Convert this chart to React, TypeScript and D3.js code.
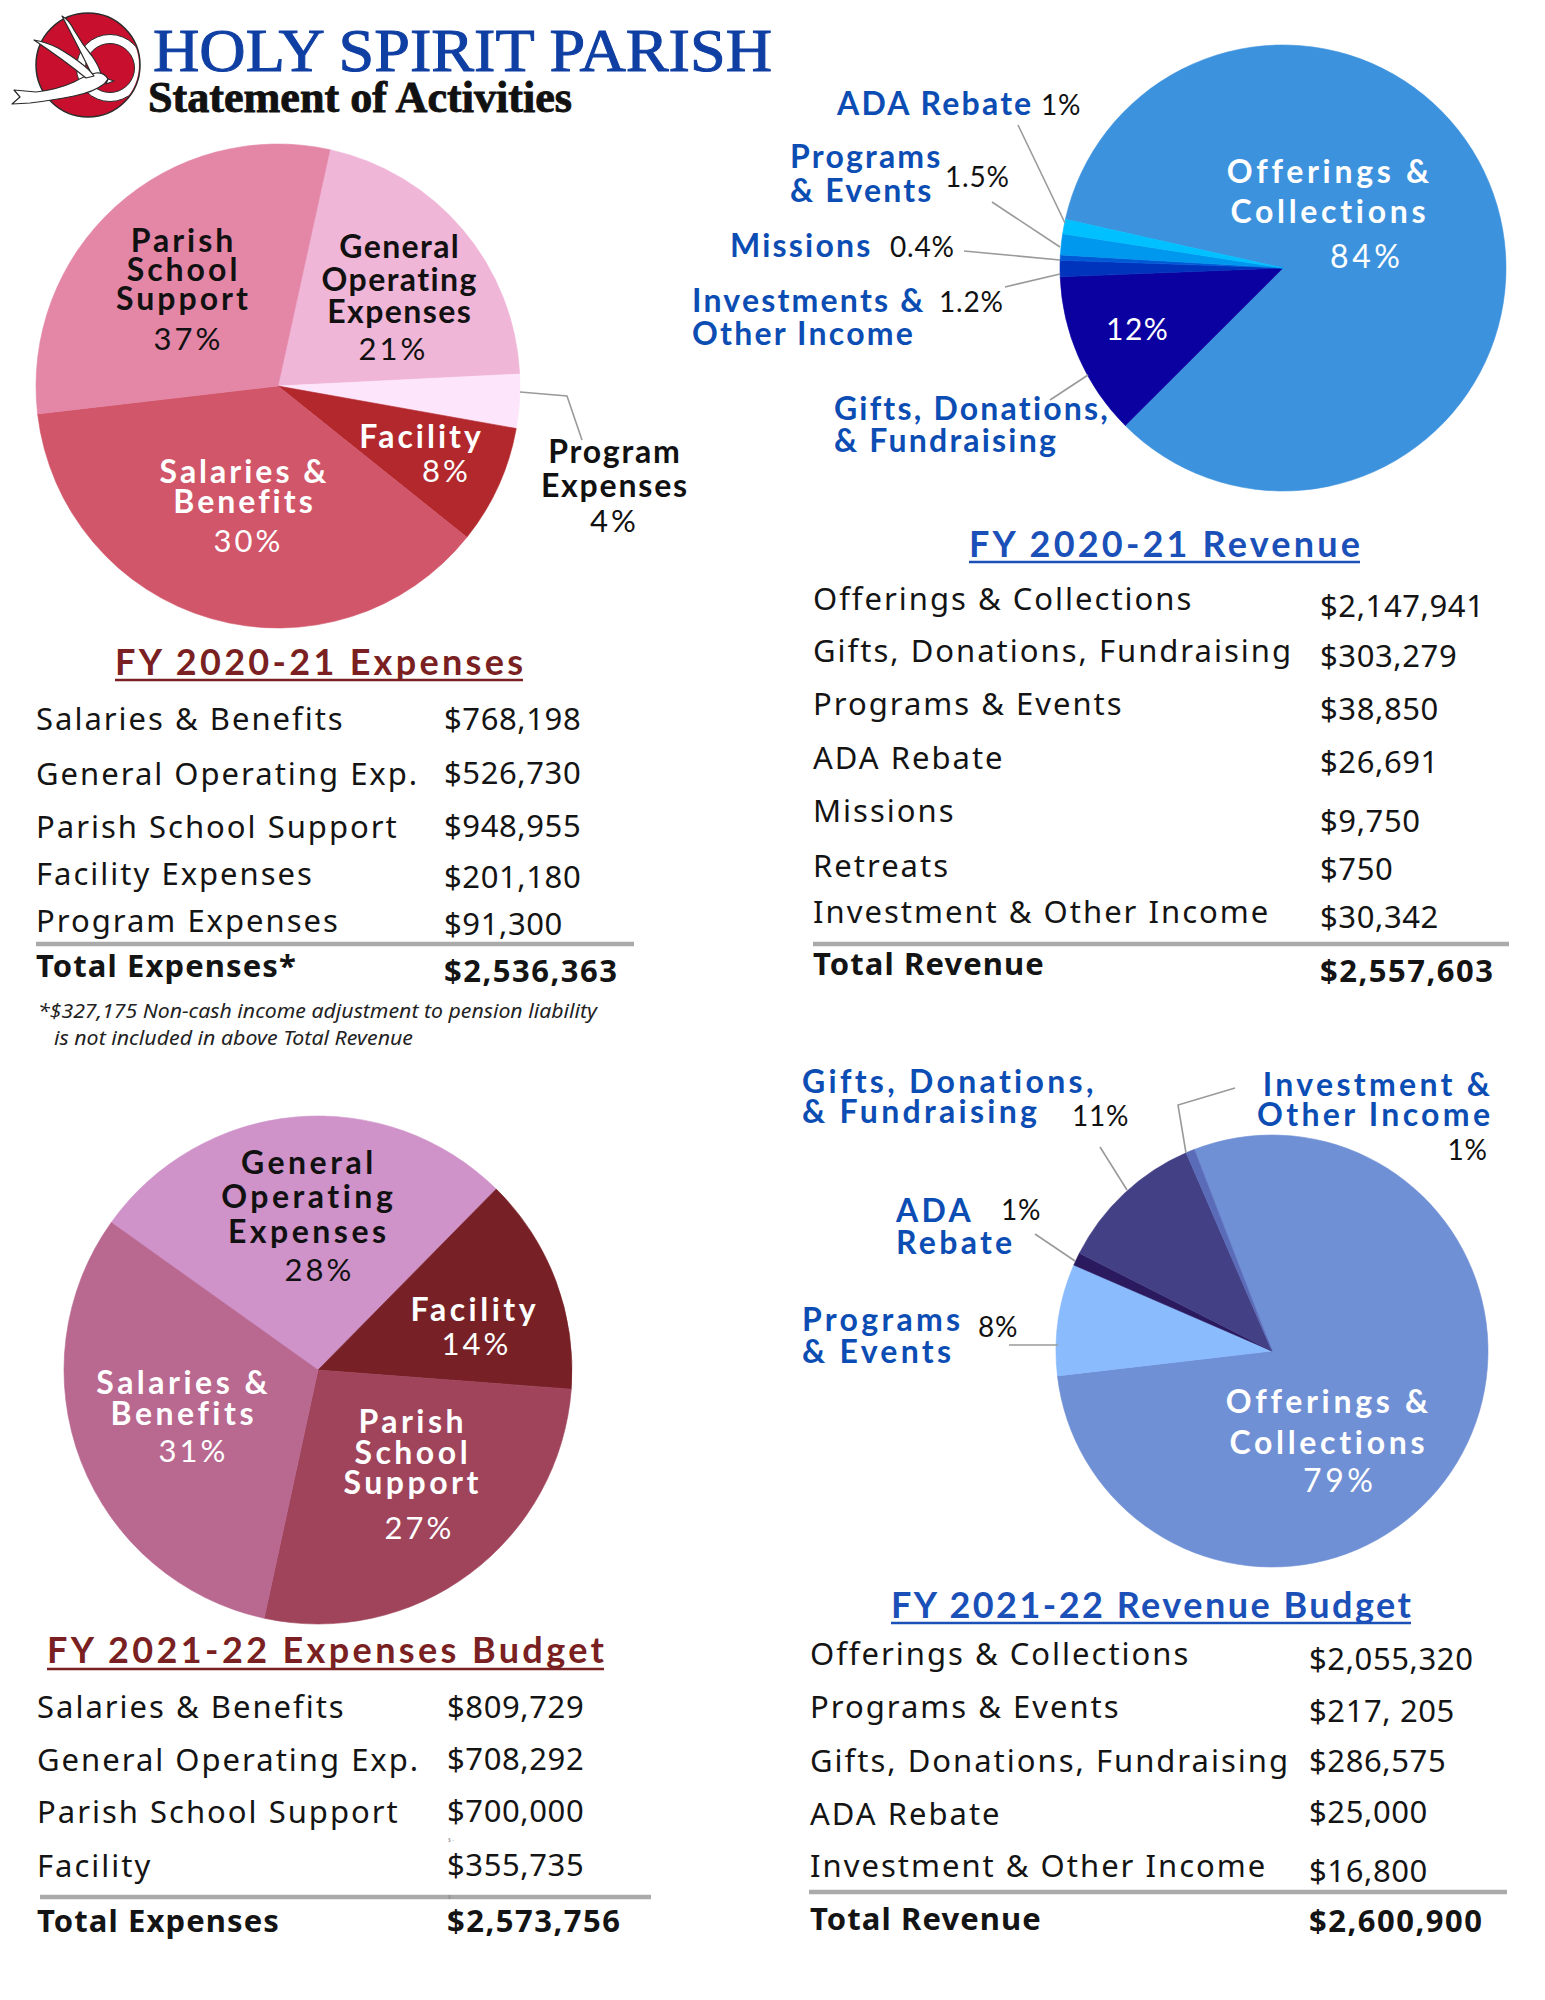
import React from "react";
import * as d3 from "d3";

// ---------------- DATA ----------------
// FY 2020-21 Expenses table
const exp21Categories = ["Salaries & Benefits", "General Operating Exp.", "Parish School Support", "Facility Expenses", "Program Expenses"];
const exp21Amounts = ["$768,198", "$526,730", "$948,955", "$201,180", "$91,300"];
const exp21TotalLabel = "Total Expenses*";
const exp21Total = "$2,536,363";
const exp21Footnote = ["*$327,175 Non-cash income adjustment to pension liability", "is not included in above Total Revenue"];

// FY 2020-21 Expenses pie (slices clockwise, sizes as drawn in the source)
const exp21PieLabels = ["General\nOperating\nExpenses", "Program\nExpenses", "Facility", "Salaries &\nBenefits", "Parish\nSchool\nSupport"];
const exp21PiePct = ["21%", "4%", "8%", "30%", "37%"];
const exp21PieValues = [526730, 91300, 201180, 948955, 768198];

// FY 2020-21 Revenue table
const rev21Categories = ["Offerings & Collections", "Gifts, Donations, Fundraising", "Programs & Events", "ADA Rebate", "Missions", "Retreats", "Investment & Other Income"];
const rev21Amounts = ["$2,147,941", "$303,279", "$38,850", "$26,691", "$9,750", "$750", "$30,342"];
const rev21TotalLabel = "Total Revenue";
const rev21Total = "$2,557,603";

// FY 2020-21 Revenue pie
const rev21PieLabels = ["Offerings &\nCollections", "Gifts, Donations,\n& Fundraising", "Investments &\nOther Income", "Missions", "Programs\n& Events", "ADA Rebate"];
const rev21PiePct = ["84%", "12%", "1.2%", "0.4%", "1.5%", "1%"];
const rev21PieValues = [2147941, 303279, 30342, 9750, 38850, 26691];

// FY 2021-22 Expenses Budget table
const exp22Categories = ["Salaries & Benefits", "General Operating Exp.", "Parish School Support", "Facility"];
const exp22Amounts = ["$809,729", "$708,292", "$700,000", "$355,735"];
const exp22TotalLabel = "Total Expenses";
const exp22Total = "$2,573,756";

// FY 2021-22 Expenses Budget pie
const exp22PieLabels = ["General\nOperating\nExpenses", "Facility", "Parish\nSchool\nSupport", "Salaries &\nBenefits"];
const exp22PiePct = ["28%", "14%", "27%", "31%"];
const exp22PieValues = [708292, 355735, 700000, 809729];

// FY 2021-22 Revenue Budget table
const rev22Categories = ["Offerings & Collections", "Programs & Events", "Gifts, Donations, Fundraising", "ADA Rebate", "Investment & Other Income"];
const rev22Amounts = ["$2,055,320", "$217, 205", "$286,575", "$25,000", "$16,800"];
const rev22TotalLabel = "Total Revenue";
const rev22Total = "$2,600,900";

// FY 2021-22 Revenue Budget pie
const rev22PieLabels = ["Offerings &\nCollections", "Programs\n& Events", "ADA\nRebate", "Gifts, Donations,\n& Fundraising", "Investment &\nOther Income"];
const rev22PiePct = ["79%", "8%", "1%", "11%", "1%"];
const rev22PieValues = [2055320, 217205, 25000, 286575, 16800];

const titleText = "HOLY SPIRIT PARISH";
const subtitleText = "Statement of Activities";
const headings = ["FY 2020-21 Expenses", "FY 2020-21 Revenue", "FY 2021-22 Expenses Budget", "FY 2021-22 Revenue Budget"];

// ---------------- STYLE / LAYOUT ----------------
const PIE_FONT = "Lato, 'Noto Sans', sans-serif";
const TABLE_FONT = "'Noto Sans', 'Open Sans', sans-serif";
const BLUE = "#0c4db4";
const RED_HEAD = "#7a1f22";
const BLUE_HEAD = "#1a50b8";
const LEADER = "#9a9a9a";

type LabelLayout = {
  x: number; y: number; lh?: number; anchor?: string; fill: string; ls?: number;
  px: number; py: number; panchor?: string; pfill: string; psize?: number; pls?: number;
  leader?: [number, number][];
};

const pie1 = {
  cx: 278, cy: 386, r: 242, startDeg: 12.4, ls: 3, psize: 31, pls: 3,
  colors: ["#f0b6d7", "#fde5fb", "#b2282c", "#d15669", "#e486a6"],
  labels: [
    { x: 399, y: 258, lh: 32.5, fill: "#111", ls: 1.4, px: 392, py: 360, pfill: "#111" },
    { x: 614, y: 463, lh: 34, fill: "#111", ls: 1.8, px: 613, py: 532, pfill: "#111", leader: [[520, 392], [567, 396], [582, 440]] },
    { x: 420, y: 448, fill: "#fff", px: 445, py: 482, pfill: "#fff" },
    { x: 243, y: 483, lh: 30, fill: "#fff", px: 247, py: 552, pfill: "#fff" },
    { x: 182, y: 252, lh: 29, fill: "#111", px: 187, py: 350, pfill: "#111" },
  ] as LabelLayout[],
};

const pie2 = {
  cx: 1283, cy: 268, r: 223, startDeg: -77.4, ls: 2.2, psize: 28, pls: 0.8,
  colors: ["#3d92dd", "#0b00a0", "#0034bd", "#005ad6", "#0098ee", "#00c0ff"],
  labels: [
    { x: 1328, y: 183, lh: 40, fill: "#fff", ls: 3.7, px: 1365, py: 268, pfill: "#fff", psize: 32, pls: 3.5 },
    { x: 834, y: 420, lh: 32, anchor: "start", fill: BLUE, px: 1137, py: 340, pfill: "#fff", psize: 30, pls: 1.5, leader: [[1050, 400], [1088, 375]] },
    { x: 692, y: 312, lh: 33, anchor: "start", fill: BLUE, px: 939, py: 312, panchor: "start", pfill: "#111", leader: [[1005, 287], [1060, 274]] },
    { x: 730, y: 257, anchor: "start", fill: BLUE, px: 890, py: 257, panchor: "start", pfill: "#111", leader: [[964, 251], [1060, 260]] },
    { x: 790, y: 168, lh: 34, anchor: "start", fill: BLUE, px: 945, py: 187, panchor: "start", pfill: "#111", leader: [[992, 202], [1060, 247]] },
    { x: 837, y: 115, anchor: "start", fill: BLUE, px: 1041, py: 115, panchor: "start", pfill: "#111", leader: [[1018, 125], [1065, 223]] },
  ] as LabelLayout[],
};

const pie3 = {
  cx: 318, cy: 1370, r: 254, startDeg: -54.5, ls: 3.5, psize: 31, pls: 3,
  colors: ["#cf92c9", "#772126", "#a0445c", "#b96890"],
  labels: [
    { x: 307, y: 1173.5, lh: 34.5, fill: "#111", px: 318, py: 1281, pfill: "#111" },
    { x: 473, y: 1321, fill: "#fff", px: 475, py: 1355, pfill: "#fff" },
    { x: 411, y: 1433, lh: 30.5, fill: "#fff", px: 418, py: 1539, pfill: "#fff" },
    { x: 182, y: 1394, lh: 30.5, fill: "#fff", px: 192, py: 1462, pfill: "#fff" },
  ] as LabelLayout[],
};

const pie4 = {
  cx: 1272, cy: 1351, r: 216, startDeg: -21.1, ls: 3.3, psize: 28, pls: 0.8,
  colors: ["#7090d5", "#8abbfd", "#2b1a5e", "#434086", "#5a6bb8"],
  labels: [
    { x: 1327, y: 1413, lh: 41, fill: "#fff", ls: 3.7, px: 1338, py: 1492, pfill: "#fff", psize: 32, pls: 3.5 },
    { x: 802, y: 1331, lh: 32, anchor: "start", fill: BLUE, px: 978, py: 1337, panchor: "start", pfill: "#111", leader: [[1009, 1345], [1058, 1345]] },
    { x: 896, y: 1222, lh: 32, anchor: "start", fill: BLUE, px: 1001, py: 1220, panchor: "start", pfill: "#111", leader: [[1035, 1234], [1075, 1261]] },
    { x: 802, y: 1093, lh: 30, anchor: "start", fill: BLUE, px: 1072, py: 1126, panchor: "start", pfill: "#111", leader: [[1100, 1147], [1127, 1190]] },
    { x: 1490, y: 1096, lh: 30, anchor: "end", fill: BLUE, px: 1487, py: 1160, panchor: "end", pfill: "#111", leader: [[1235, 1088], [1178, 1105], [1186, 1153]] },
  ] as LabelLayout[],
};

// ---------------- COMPONENTS ----------------
function PieChart({ cfg, values, labels, pcts }: any) {
  const start = (cfg.startDeg * Math.PI) / 180;
  const arcs = d3.pie<number>().sort(null).value((d) => d).startAngle(start).endAngle(start + 2 * Math.PI)(values);
  const arc = d3.arc<d3.PieArcDatum<number>>().innerRadius(0).outerRadius(cfg.r);
  const line = d3.line();
  return (
    <g>
      <g transform={`translate(${cfg.cx},${cfg.cy})`}>
        {arcs.map((a, i) => (
          <path key={i} d={arc(a) || ""} fill={cfg.colors[i]} stroke={cfg.colors[i]} strokeWidth={0.6} />
        ))}
      </g>
      {cfg.labels.map((l: LabelLayout, i: number) => {
        const anchor = l.anchor || "middle";
        const ls = l.ls ?? cfg.ls;
        const pls = l.pls ?? cfg.pls;
        // compensate trailing letter-spacing on centred / end-anchored text
        const dx = anchor === "middle" ? ls / 2 : anchor === "end" ? ls : 0;
        const pdx = (l.panchor || "middle") === "middle" ? pls / 2 : l.panchor === "end" ? pls : 0;
        return (
          <g key={i}>
            {l.leader && <path d={line(l.leader) || ""} fill="none" stroke={LEADER} strokeWidth={1.6} />}
            <text x={l.x + dx} y={l.y} textAnchor={anchor} fill={l.fill} fontFamily={PIE_FONT} fontSize={32} fontWeight={700} letterSpacing={ls}>
              {labels[i].split("\n").map((s: string, j: number) => (
                <tspan key={j} x={l.x + dx} y={l.y + j * (l.lh || 30)}>{s}</tspan>
              ))}
            </text>
            <text x={l.px + pdx} y={l.py} textAnchor={l.panchor || "middle"} fill={l.pfill} fontFamily={PIE_FONT} fontSize={l.psize ?? cfg.psize} fontWeight={400} letterSpacing={pls}>
              {pcts[i]}
            </text>
          </g>
        );
      })}
    </g>
  );
}

function Table({ cats, amts, totalLabel, total, t }: any) {
  return (
    <g fontFamily={TABLE_FONT} fill="#141414">
      {cats.map((c: string, i: number) => (
        <g key={i}>
          <text x={t.lx} y={t.ly[i]} fontSize={31} letterSpacing={2}>{c}</text>
          <text x={t.vx} y={t.vy[i]} fontSize={31} letterSpacing={0.6}>{amts[i]}</text>
        </g>
      ))}
      <line x1={t.rx1} x2={t.rx2} y1={t.ry} y2={t.ry} stroke="#aaaaaa" strokeWidth={4.5} />
      <text x={t.lx} y={t.ty} fontSize={31} fontWeight={700} letterSpacing={1.1}>{totalLabel}</text>
      <text x={t.vx} y={t.tvy} fontSize={31} fontWeight={700} letterSpacing={1.5}>{total}</text>
    </g>
  );
}

function Heading({ text, x, w, y, uy, color }: any) {
  return (
    <g>
      <text x={x} y={y} fill={color} fontFamily={PIE_FONT} fontSize={36} fontWeight={700} textLength={w} lengthAdjust="spacing">{text}</text>
      <line x1={x} x2={x + w} y1={uy} y2={uy} stroke={color} strokeWidth={2.5} />
    </g>
  );
}

function Logo() {
  return (
    <g>
      <defs>
        <clipPath id="logoClip"><circle cx={88} cy={65} r={51} /></clipPath>
      </defs>
      <circle cx={88} cy={65} r={52} fill="#c8102e" stroke="#2a2a2a" strokeWidth={1.5} />
      <g clipPath="url(#logoClip)">
        <circle cx={110} cy={68} r={29} fill="none" stroke="#fff" strokeWidth={9} />
        <circle cx={110} cy={68} r={33.5} fill="none" stroke="#2a2a2a" strokeWidth={1} />
        <circle cx={110} cy={68} r={24.5} fill="none" stroke="#2a2a2a" strokeWidth={1} />
      </g>
      <g fill="#fff" stroke="#2a2a2a" strokeWidth={1.2} strokeLinejoin="round">
        <path d="M92,75 Q80,50 62,16 Q69,20 74,30 Q82,44 92,56 Q99,66 101,74 Z" />
        <path d="M108,79 Q104,72 96,73 Q86,75 74,82 Q56,90 36,92 L14,90 L20,97 L12,104 L30,103 Q54,100 74,96 Q94,92 104,84 Z" />
        <path d="M86,78 Q64,60 34,40 Q46,42 58,48 Q72,56 82,64 Q90,70 94,76 Z" />
        <path d="M108,79 L114,81 L106,84 Z" />
      </g>
    </g>
  );
}

export default function App() {
  return (
    <svg width={1545} height={2000} viewBox="0 0 1545 2000" style={{ position: "absolute", left: 0, top: 0, background: "#fff" }}>
      <rect width={1545} height={2000} fill="#fff" />
      <Logo />
      <text x={153} y={71} fill="#0f3fa3" stroke="#0f3fa3" strokeWidth={1} fontFamily="'Liberation Serif', serif" fontSize={62} textLength={619} lengthAdjust="spacingAndGlyphs">{titleText}</text>
      <text x={148} y={112} fill="#111" stroke="#111" strokeWidth={0.9} fontFamily="'Liberation Serif', serif" fontWeight={700} fontSize={45} textLength={424} lengthAdjust="spacingAndGlyphs">{subtitleText}</text>

      <PieChart cfg={pie1} values={exp21PieValues} labels={exp21PieLabels} pcts={exp21PiePct} />
      <PieChart cfg={pie2} values={rev21PieValues} labels={rev21PieLabels} pcts={rev21PiePct} />
      <PieChart cfg={pie3} values={exp22PieValues} labels={exp22PieLabels} pcts={exp22PiePct} />
      <PieChart cfg={pie4} values={rev22PieValues} labels={rev22PieLabels} pcts={rev22PiePct} />

      <Heading text={headings[0]} x={115} w={408} y={675} uy={680} color={RED_HEAD} />
      <Heading text={headings[1]} x={969} w={391} y={557} uy={562} color={BLUE_HEAD} />
      <Heading text={headings[2]} x={47} w={557} y={1663} uy={1669} color={RED_HEAD} />
      <Heading text={headings[3]} x={891} w={520} y={1618} uy={1623} color={BLUE_HEAD} />

      <Table cats={exp21Categories} amts={exp21Amounts} totalLabel={exp21TotalLabel} total={exp21Total}
        t={{ lx: 36, vx: 444, ly: [730, 785, 838, 885, 932], vy: [730, 784, 837, 888, 935], rx1: 36, rx2: 634, ry: 944, ty: 977, tvy: 982 }} />
      <g fontFamily={TABLE_FONT} fontStyle="italic" fontSize={20} fill="#222">
        <text x={38} y={1018} textLength={559} lengthAdjust="spacingAndGlyphs">{exp21Footnote[0]}</text>
        <text x={54} y={1045} textLength={359} lengthAdjust="spacingAndGlyphs">{exp21Footnote[1]}</text>
      </g>

      <Table cats={rev21Categories} amts={rev21Amounts} totalLabel={rev21TotalLabel} total={rev21Total}
        t={{ lx: 813, vx: 1320, ly: [610, 662, 715, 769, 822, 877, 923], vy: [617, 667, 720, 773, 832, 880, 928], rx1: 813, rx2: 1509, ry: 944, ty: 975, tvy: 982 }} />

      <Table cats={exp22Categories} amts={exp22Amounts} totalLabel={exp22TotalLabel} total={exp22Total}
        t={{ lx: 37, vx: 447, ly: [1718, 1771, 1823, 1877], vy: [1718, 1770, 1822, 1876], rx1: 40, rx2: 651, ry: 1897, ty: 1932, tvy: 1932 }} />
      <g fontFamily={TABLE_FONT} fontSize={5} fill="#888">
        <text x={448} y={1842}>$ -</text>
        <text x={448} y={1899}>$ -</text>
      </g>

      <Table cats={rev22Categories} amts={rev22Amounts} totalLabel={rev22TotalLabel} total={rev22Total}
        t={{ lx: 810, vx: 1309, ly: [1665, 1718, 1772, 1825, 1877], vy: [1670, 1722, 1772, 1823, 1882], rx1: 809, rx2: 1507, ry: 1892, ty: 1930, tvy: 1932 }} />
    </svg>
  );
}
